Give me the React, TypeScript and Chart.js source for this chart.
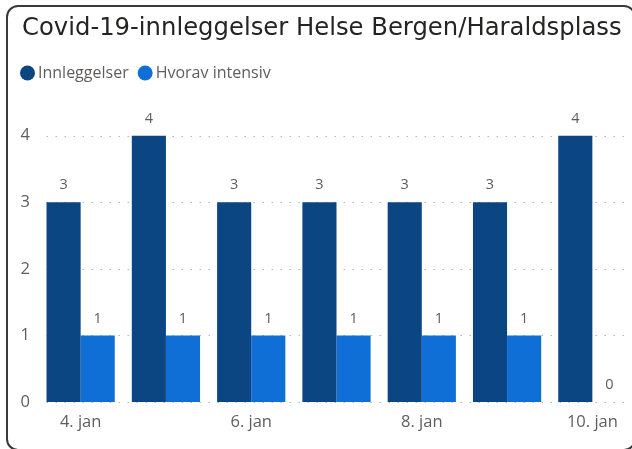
import React, { useEffect, useRef } from "react";
import { Chart, registerables } from "chart.js";

Chart.register(...registerables);

const TITLE = "Covid-19-innleggelser Helse Bergen/Haraldsplass";
const categories = ["4. jan", "5. jan", "6. jan", "7. jan", "8. jan", "9. jan", "10. jan"];
const innleggelser = [3, 4, 3, 3, 3, 3, 4];
const hvoravIntensiv = [1, 1, 1, 1, 1, 1, 0];
const yTicks = [0, 1, 2, 3, 4];
const seriesNames = ["Innleggelser", "Hvorav intensiv"];
const seriesColors = ["#0b4582", "#0f6fd7"];

const GRAY = "#605e5c";
const TITLE_FONT = '24.3px "DejaVu Sans"';
const LEGEND_FONT = '16px "Open Sans"';
const AXIS_FAMILY = '"Open Sans"';

export default function App() {
  const ref = useRef<HTMLCanvasElement | null>(null);

  useEffect(() => {
    const canvas = ref.current;
    if (!canvas) return;

    const headerPlugin = {
      id: "header",
      afterDraw(chart: any) {
        const ctx = chart.ctx;
        ctx.save();
        ctx.fillStyle = "#252423";
        ctx.font = TITLE_FONT;
        ctx.textAlign = "left";
        ctx.textBaseline = "alphabetic";
        ctx.fillText(TITLE, 22, 35);

        ctx.font = LEGEND_FONT;
        ctx.textBaseline = "middle";
        let x = 20;
        const y = 73;
        seriesNames.forEach((name, i) => {
          ctx.fillStyle = seriesColors[i];
          ctx.beginPath();
          ctx.arc(x + 7.5, y, 7.5, 0, Math.PI * 2);
          ctx.fill();
          ctx.fillStyle = GRAY;
          ctx.fillText(name, x + 18, y);
          x += 18 + ctx.measureText(name).width + 9;
        });
        ctx.restore();
      },
    };

    const gridPlugin = {
      id: "dotGrid",
      beforeDatasetsDraw(chart: any) {
        const ctx = chart.ctx;
        const area = chart.chartArea;
        const ys = chart.scales.y;
        const w = (area.right - area.left) / categories.length;
        ctx.save();
        ctx.strokeStyle = "#b8b6b4";
        ctx.lineWidth = 1;
        ctx.setLineDash([1.5, 7.5]);
        yTicks.forEach((v) => {
          const y = Math.round(ys.getPixelForValue(v)) + 0.5;
          ctx.beginPath();
          ctx.moveTo(area.left + w * 0.1, y);
          ctx.lineTo(area.right - w * 0.1, y);
          ctx.stroke();
        });
        ctx.restore();
      },
    };

    const labelPlugin = {
      id: "barLabels",
      afterDatasetsDraw(chart: any) {
        const ctx = chart.ctx;
        ctx.save();
        ctx.fillStyle = GRAY;
        ctx.font = `14.5px ${AXIS_FAMILY}`;
        ctx.textAlign = "center";
        ctx.textBaseline = "middle";
        chart.data.datasets.forEach((ds: any, i: number) => {
          const meta = chart.getDatasetMeta(i);
          meta.data.forEach((bar: any, j: number) => {
            ctx.fillText(String(ds.data[j]), bar.x, bar.y - 17);
          });
        });
        ctx.restore();
      },
    };

    const chart = new Chart(canvas, {
      type: "bar",
      data: {
        labels: categories,
        datasets: [
          {
            label: seriesNames[0],
            data: innleggelser,
            backgroundColor: seriesColors[0],
            categoryPercentage: 0.8,
            barPercentage: 1.0,
          },
          {
            label: seriesNames[1],
            data: hvoravIntensiv,
            backgroundColor: seriesColors[1],
            categoryPercentage: 0.8,
            barPercentage: 1.0,
          },
        ],
      },
      options: {
        animation: false,
        responsive: false,
        maintainAspectRatio: false,
        layout: { padding: { top: 109, right: 5, bottom: 0, left: 0 } },
        plugins: {
          legend: { display: false },
          title: { display: false },
          tooltip: { enabled: false },
        },
        scales: {
          x: {
            grid: { display: false, drawTicks: false },
            border: { display: false },
            ticks: {
              autoSkip: false,
              maxRotation: 0,
              padding: 10,
              color: GRAY,
              font: { family: AXIS_FAMILY, size: 16.5 },
              callback: (_v: any, i: number) => (i % 2 === 0 ? categories[i] : ""),
            },
            afterFit: (s: any) => {
              s.height = 47;
            },
          },
          y: {
            min: 0,
            max: 4.4,
            grid: { display: false, drawTicks: false },
            border: { display: false },
            ticks: {
              stepSize: 1,
              padding: 8,
              color: GRAY,
              font: { family: AXIS_FAMILY, size: 16.5 },
            },
            afterBuildTicks: (s: any) => {
              s.ticks = yTicks.map((v) => ({ value: v }));
            },
            afterFit: (s: any) => {
              s.width = 38;
            },
          },
        },
      },
      plugins: [gridPlugin, labelPlugin, headerPlugin],
    });

    return () => chart.destroy();
  }, []);

  return (
    <div
      style={{
        position: "fixed",
        left: 0,
        top: 0,
        width: 632,
        height: 449,
        overflow: "hidden",
        background: "#ffffff",
      }}
    >
      <canvas
        ref={ref}
        width={640}
        height={449}
        style={{ position: "absolute", left: 0, top: 0, width: 640, height: 449 }}
      />
      <div
        style={{
          position: "absolute",
          left: 6,
          top: 5,
          width: 630,
          height: 446,
          boxSizing: "border-box",
          border: "2px solid #3a3a3a",
          borderRadius: 12,
          pointerEvents: "none",
        }}
      />
    </div>
  );
}
